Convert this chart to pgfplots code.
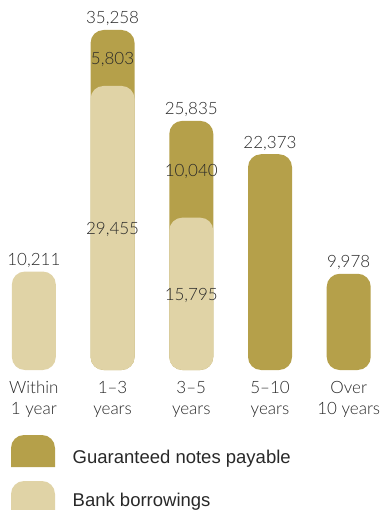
\documentclass[border=0pt]{standalone}
\usepackage{pgfplots}
\usepackage{pgfplotstable}
\pgfplotsset{compat=1.18}
\usepackage{fontspec}
\setmainfont{Lato Light}
\newfontfamily\legfont{Liberation Sans}
\definecolor{notes}{RGB}{181,160,74}
\definecolor{bank}{RGB}{224,211,166}
\definecolor{txt}{RGB}{40,40,40}
% total height of each bar (bank borrowings + guaranteed notes payable)
\pgfplotstableread{
x total label
1 35258 35,258
2 25835 25,835
3 22373 22,373
4 9978 9,978
}\totals
\pgfplotstableread{
x bank label
0 10211 10,211
1 29455 29,455
2 15795 15,795
}\bank
% labels above each bar
\pgfplotstableread{
x y label
0 10211 10,211
1 35258 35,258
2 25835 25,835
3 22373 22,373
4 9978 9,978
}\toplabels
% labels centred in the stacked segments
\pgfplotstableread{
x y label
1 32356.5 5,803
1 14727.5 29,455
2 20815 10,040
2 7897.5 15,795
}\midlabels
\begin{document}
\begin{tikzpicture}[x=1pt,y=1pt]
\useasboundingbox (0,0) rectangle (383,-510);
\begin{axis}[at={(1,0)}, anchor=north west, scale only axis,
  width=381pt, height=370pt,
  xmin=-0.42, xmax=4.42, ymin=3000, ymax=41368,
  y filter/.expression={y+3000},
  axis line style={draw=none}, ytick=\empty, xtick={0,...,4},
  major tick length=0pt,
  xticklabels={Within\\1 year, 1--3\\years, 3--5\\years, 5--10\\years, Over\\10 years},
  xticklabel style={align=center, font=\fontsize{17}{21}\selectfont, text=txt, anchor=north, yshift=-8pt},
  clip=true]
\addplot[ybar, bar width=44pt, bar shift=0pt, fill=notes, draw=none, rounded corners=13pt]
  table[x=x, y=total] {\totals};
\addplot[ybar, bar width=44pt, bar shift=0pt, fill=bank, draw=none, rounded corners=13pt]
  table[x=x, y=bank] {\bank};
\addplot[draw=none, mark=none, point meta=explicit symbolic,
  nodes near coords={\pgfplotspointmeta},
  every node near coord/.style={anchor=base, yshift=6pt, inner sep=0pt, text=txt, font=\fontsize{17}{20}\selectfont}]
  table[x=x, y=y, meta=label] {\toplabels};
\addplot[draw=none, mark=none, point meta=explicit symbolic,
  nodes near coords={\pgfplotspointmeta},
  every node near coord/.style={anchor=center, yshift=-2pt, inner sep=0pt, text=txt, font=\fontsize{17}{20}\selectfont}]
  table[x=x, y=y, meta=label] {\midlabels};
\end{axis}
\begin{scope}
\clip (0,0) rectangle (383,-510);
\fill[notes] (11,-467) [rounded corners=13pt] -- (11,-435) -- (55,-435) [sharp corners] -- (55,-467) -- cycle;
\fill[bank] (11,-520) [rounded corners=13pt] -- (11,-481) -- (55,-481) [sharp corners] -- (55,-520) -- cycle;
\end{scope}
\node[anchor=base west, inner sep=0pt, text=txt, font=\legfont\fontsize{18.5}{20}\selectfont] at (72.5,-463) {Guaranteed notes payable};
\node[anchor=base west, inner sep=0pt, text=txt, font=\legfont\fontsize{18.5}{20}\selectfont] at (72.5,-506) {Bank borrowings};
\end{tikzpicture}
\end{document}
